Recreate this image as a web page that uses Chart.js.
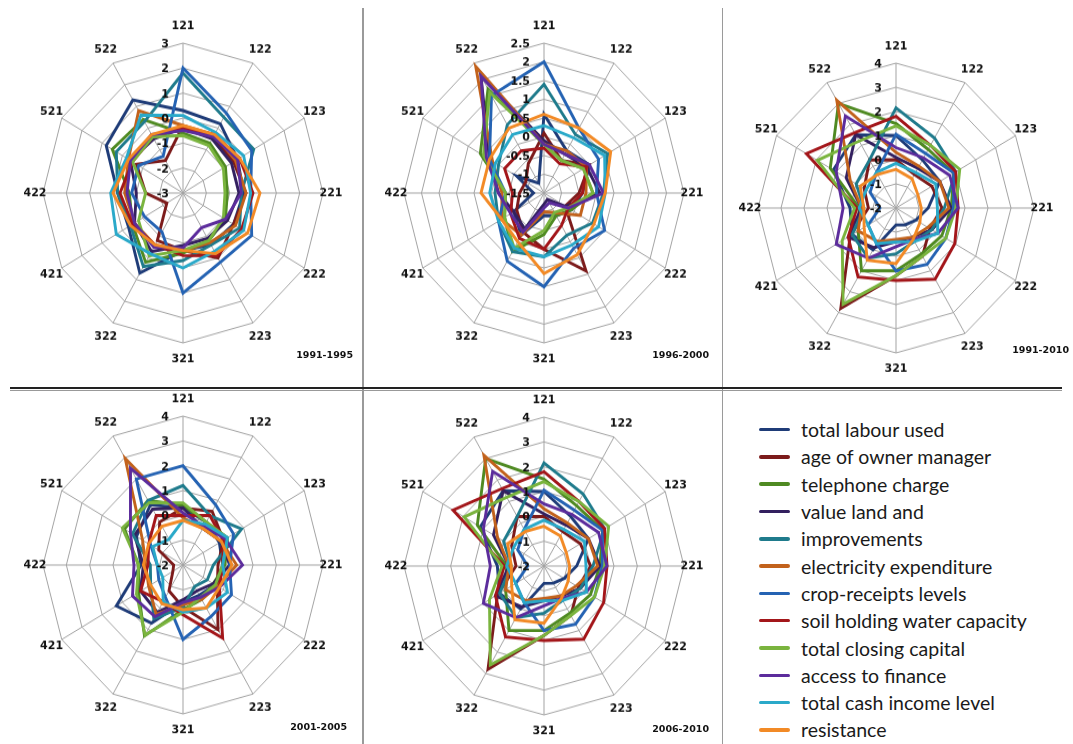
<!DOCTYPE html>
<html>
<head>
<meta charset="utf-8">
<script src="https://cdn.jsdelivr.net/npm/chart.js@4.4.0/dist/chart.umd.min.js"></script>
<style>
  body { margin: 0; width: 1073px; height: 744px; overflow: hidden; position: relative; background: #fff; }
  canvas { position: absolute; }
  .rule { position: absolute; }
  .period { position: absolute; width: 90px; text-align: right; font: bold 9.5px "DejaVu Sans", sans-serif; color: #111; line-height: 12px; }
  #legend { position: absolute; left: 759px; top: 416px; font: 19.5px Lato, sans-serif; color: #1a1a1a; }
  #legend .row { height: 27.3px; display: flex; align-items: center; white-space: nowrap; }
  #legend .swatch { width: 31px; height: 3.5px; border-radius: 2px; margin-right: 11px; }
</style>
</head>
<body>
<div class="rule" style="left:362px;top:8px;width:1.5px;height:736px;background:#9a9a9a"></div>
<div class="rule" style="left:721.5px;top:8px;width:1.5px;height:736px;background:#9a9a9a"></div>
<div class="rule" style="left:10px;top:387px;width:1052px;height:2px;background:#222"></div>
<div class="rule" style="left:10px;top:390px;width:1052px;height:1px;background:#999"></div>
<div id="legend"></div>

<script>
// axes of every radar
const axisLabels = ["121", "122", "123", "221", "222", "223", "321", "322", "421", "422", "521", "522"];

const seriesNames = [
  "total labour used", "age of owner manager", "telephone charge", "value land and",
  "improvements", "electricity expenditure", "crop-receipts levels", "soil holding water capacity",
  "total closing capital", "access to finance", "total cash income level", "resistance"
];
const seriesColors = [
  "#1f3c78", "#7c1b1b", "#4f8a22", "#33205f", "#1f7b8c", "#c2621c",
  "#2563b3", "#a3161a", "#7ab43e", "#5c2c9c", "#2aa9c9", "#f28a26"
];

// one row per series (same order as seriesNames), one value per axis
const data1991_1995 = [
  [0.3, 0.2, -0.3, -0.4, -0.5, -0.6, -0.7, 0.7, -0.3, -0.2, 0.8, 1.3],
  [-0.3, -0.4, -0.5, -0.3, -0.5, 0.0, -0.7, -0.8, -2.2, -1.4, -0.7, -1.5],
  [-0.6, -0.7, -0.9, -1.1, -0.9, -0.8, -0.6, 0.2, -0.5, -0.7, 0.5, 0.4],
  [-0.4, -0.5, -0.6, -0.6, -0.8, -0.9, -0.9, -0.3, -0.6, -1.0, -0.4, -0.5],
  [1.8, 0.5, 0.5, -0.5, -0.2, -0.6, -0.3, 0.4, -0.4, -0.2, 0.3, 0.3],
  [-0.3, -0.3, -0.4, -0.3, -0.4, -0.7, -0.7, -0.6, -0.6, -0.5, -0.3, 0.8],
  [2.0, 0.7, 0.4, -0.1, 0.4, 0.2, 1.0, -1.2, -1.1, -0.8, -0.8, -1.3],
  [-0.4, -0.3, -0.2, 0.0, -0.1, -0.1, -0.5, -0.6, -0.5, -0.3, -0.5, -0.4],
  [-0.7, -0.8, -1.0, -1.2, -1.0, -0.8, -0.7, -0.1, -0.8, -1.4, -0.5, -0.4],
  [-0.5, -0.4, -0.3, -0.5, -0.9, -1.4, -0.8, -0.5, -0.6, -0.6, -0.4, -0.3],
  [0.1, -0.2, 0.0, -0.1, 0.0, -0.3, 0.0, -0.2, 0.3, 0.1, -0.2, 0.6],
  [-0.3, -0.3, -0.2, 0.3, 0.2, -0.2, -0.7, -0.6, -0.4, 0.0, -0.3, -0.3]
];

const data1996_2000 = [
  [0.6, -0.2, 0.0, -0.4, -0.6, -0.8, -0.9, -0.2, -0.5, -1.2, -0.6, -1.2],
  [0.1, -0.5, 0.0, -0.5, -0.8, 0.9, 0.0, -0.3, -0.6, -0.8, -0.9, -0.6],
  [-0.2, -0.5, -0.2, -0.1, -0.6, -0.8, -0.4, 0.3, -0.2, -0.4, 0.6, 1.7],
  [-0.1, -0.3, -0.1, 0.1, -0.8, -1.3, -1.2, -0.4, -0.5, -0.2, 0.3, 2.1],
  [1.4, 0.3, 0.6, 0.2, 0.1, -0.2, 0.2, 0.3, 0.0, -0.1, 0.0, 0.6],
  [-0.2, -0.2, -0.1, -0.3, -0.3, -0.9, -1.0, -0.2, -0.1, -0.3, 0.2, 2.4],
  [2.0, 0.5, 0.3, 0.0, 0.5, 0.2, 1.0, 0.6, 0.0, -0.4, 0.3, 1.5],
  [-0.3, -0.6, -0.1, -0.4, -0.7, -0.5, 0.0, -0.1, -0.4, -0.6, -0.2, -0.2],
  [-0.2, -0.5, -0.2, -0.1, -0.7, -0.9, -0.5, 0.2, -0.2, -0.4, 0.5, 1.6],
  [-0.2, -0.3, 0.0, 0.2, -0.7, -1.2, -1.1, -0.3, -0.4, -0.2, 0.4, 2.1],
  [0.3, 0.2, 0.5, 0.25, 0.3, 0.1, 0.2, 0.2, 0.0, 0.05, 0.1, 0.3],
  [0.6, 0.5, 0.7, 0.25, 0.15, 0.4, 0.65, 0.0, -0.1, 0.3, 0.3, 0.5]
];

const data2001_2005 = [
  [0.3, 0.0, -0.2, -0.3, -0.4, -0.6, -0.5, 0.7, 1.3, -0.2, 0.3, 0.8],
  [0.3, 0.5, 0.0, -0.5, -0.3, 1.0, -0.3, -0.8, -1.5, -1.6, -0.8, 0.0],
  [0.4, 0.0, 0.2, -0.2, -0.5, -0.4, -0.2, 1.3, 0.2, -0.1, 0.9, 1.0],
  [0.3, -0.3, -0.1, 0.0, -0.5, -0.8, -0.6, 0.2, 0.1, -0.3, 0.4, 0.6],
  [1.2, 0.3, 0.9, -0.7, -0.8, -1.0, -0.3, 0.5, -0.4, -0.6, 0.5, 1.0],
  [-0.1, -0.3, -0.1, 0.3, -0.3, -0.4, -0.4, 0.3, -0.3, -0.4, 0.0, 2.95],
  [2.0, 0.8, 0.5, 0.0, 0.4, 0.4, 1.0, -0.5, -0.8, -0.9, -0.4, 2.0],
  [0.0, 0.3, 0.0, -0.3, -0.2, 1.4, 0.0, -0.3, 0.1, -0.5, -0.3, 0.3],
  [0.5, 0.0, 0.2, -0.3, -0.4, -0.5, -0.1, 1.25, 0.3, -0.1, 1.0, 0.9],
  [0.1, -0.2, 0.1, 0.55, -0.2, -0.5, -0.5, 0.4, 0.5, 0.1, 0.6, 2.5],
  [-0.2, -0.1, 0.2, -0.3, 0.2, 0.0, -0.1, -0.3, -1.0, -0.9, -0.5, -0.8],
  [-0.2, -0.3, -0.1, 0.1, -0.2, 0.0, -0.2, -0.2, -0.4, -0.3, -0.3, -0.2]
];

const data2006_2010 = [
  [1.0, 0.3, 0.2, -0.6, -1.0, -1.2, -1.3, 0.0, 0.2, 0.0, 1.15, 1.5],
  [0.0, -0.4, -0.2, 0.0, -0.3, 0.3, 0.8, 2.8, 0.3, -0.8, -0.4, 0.3],
  [1.5, 0.8, 0.9, 0.4, 0.3, 0.2, 0.6, 1.0, -0.1, -0.4, 1.3, 3.0],
  [0.1, -0.1, 0.2, 0.4, -0.2, -0.6, -0.6, -0.1, 0.4, -0.5, 0.5, 1.5],
  [2.15, 1.35, 1.0, 0.1, -0.2, -0.4, -0.1, 0.4, 0.2, -0.6, 0.0, 0.3],
  [0.3, 0.0, 0.2, 0.3, -0.4, -0.6, -0.7, -0.4, -0.1, -0.5, 0.3, 3.15],
  [1.05, 0.6, 0.9, 0.5, 0.5, 0.7, 0.6, -0.3, -0.6, -1.3, -0.7, -0.3],
  [1.8, 1.0, 1.0, 0.7, 0.95, 1.4, 1.0, 1.3, 0.4, -0.3, 2.5, 1.6],
  [1.4, 1.0, 1.2, 0.6, 0.5, 0.3, 0.8, 2.6, 0.7, -0.2, 1.95, 1.2],
  [0.5, 0.4, 0.7, 0.7, 0.1, -0.5, -0.4, 0.4, 1.0, 0.3, 1.0, 2.4],
  [-0.15, -0.3, 0.0, -0.2, 0.1, -0.4, -0.6, -0.3, -0.6, -0.4, -0.5, -0.3],
  [-0.4, -0.6, -0.9, -0.9, -0.8, -0.5, 0.3, 0.5, -0.4, -0.6, -0.2, -0.4]
];

// the 1991-2010 panel has the same shapes as 2006-2010
const data1991_2010 = [
  [1.0, 0.3, 0.2, -0.6, -1.0, -1.2, -1.3, 0.0, 0.2, 0.0, 1.15, 1.5],
  [0.0, -0.4, -0.2, 0.0, -0.3, 0.3, 0.8, 2.8, 0.3, -0.8, -0.4, 0.3],
  [1.5, 0.8, 0.9, 0.4, 0.3, 0.2, 0.6, 1.0, -0.1, -0.4, 1.3, 3.0],
  [0.1, -0.1, 0.2, 0.4, -0.2, -0.6, -0.6, -0.1, 0.4, -0.5, 0.5, 1.5],
  [2.15, 1.35, 1.0, 0.1, -0.2, -0.4, -0.1, 0.4, 0.2, -0.6, 0.0, 0.3],
  [0.3, 0.0, 0.2, 0.3, -0.4, -0.6, -0.7, -0.4, -0.1, -0.5, 0.3, 3.15],
  [1.05, 0.6, 0.9, 0.5, 0.5, 0.7, 0.6, -0.3, -0.6, -1.3, -0.7, -0.3],
  [1.8, 1.0, 1.0, 0.7, 0.95, 1.4, 1.0, 1.3, 0.4, -0.3, 2.5, 1.6],
  [1.4, 1.0, 1.2, 0.6, 0.5, 0.3, 0.8, 2.6, 0.7, -0.2, 1.95, 1.2],
  [0.5, 0.4, 0.7, 0.7, 0.1, -0.5, -0.4, 0.4, 1.0, 0.3, 1.0, 2.4],
  [-0.15, -0.3, 0.0, -0.2, 0.1, -0.4, -0.6, -0.3, -0.6, -0.4, -0.5, -0.3],
  [-0.4, -0.6, -0.9, -0.9, -0.8, -0.5, 0.3, 0.5, -0.4, -0.6, -0.2, -0.4]
];

// scale ranges of each panel
const scaleMin = [-3, -1.5, -2, -2, -2];
const scaleMax = [3, 2.5, 4, 4, 4];
const scaleStep = [1, 0.5, 1, 1, 1];
const periods = ["1991-1995", "1996-2000", "1991-2010", "2001-2005", "2006-2010"];
const panelData = [data1991_1995, data1996_2000, data1991_2010, data2001_2005, data2006_2010];

// layout: centre, horizontal radius, vertical stretch, period label spot
const panels = [
  { cx: 183, cy: 193, r: 140, sy: 1.071, px: 353, py: 355 },
  { cx: 544, cy: 193, r: 140, sy: 1.071, px: 709, py: 355 },
  { cx: 896, cy: 208, r: 138, sy: 1.05, px: 1069, py: 350 },
  { cx: 183, cy: 565, r: 140, sy: 1.064, px: 347, py: 727 },
  { cx: 544, cy: 566, r: 140, sy: 1.064, px: 709, py: 729 }
];

const gridColor = "#a3a3a3";

// axis names and value labels, placed through the radial scale
const labelPlugin = {
  id: "radarText",
  afterDatasetsDraw(chart) {
    const s = chart.scales.r;
    const ctx = chart.ctx;
    ctx.save();
    ctx.fillStyle = "#111";
    ctx.font = 'bold 11px "DejaVu Sans"';
    ctx.textAlign = "right";
    ctx.textBaseline = "middle";
    s.ticks.forEach((t) => {
      const y = s.yCenter - s.getDistanceFromCenterForValue(t.value);
      ctx.fillText(String(Math.round(t.value * 10) / 10), s.xCenter - 14, y + 1);
    });
    ctx.textAlign = "center";
    axisLabels.forEach((lab, i) => {
      const ang = (i * Math.PI * 2) / axisLabels.length;
      const p = s.getPointPosition(i, s.drawingArea + 8 + 7.5 * Math.abs(Math.cos(ang)));
      ctx.fillText(lab, p.x, p.y);
    });
    ctx.restore();
  }
};

function drawPanel(k) {
  const p = panels[k];
  const M = 40;
  const size = 2 * p.r + 2 * M;
  const cv = document.createElement("canvas");
  cv.width = size;
  cv.height = size;
  cv.style.left = p.cx - p.r - M + "px";
  cv.style.top = p.cy - p.r - M + "px";
  cv.style.transformOrigin = "50% 50%";
  cv.style.transform = "scaleY(" + p.sy + ")";
  document.body.appendChild(cv);

  const datasets = seriesNames.map((name, i) => ({
    label: name,
    data: panelData[k][i],
    borderColor: seriesColors[i],
    backgroundColor: seriesColors[i],
    borderWidth: 2.9,
    fill: false,
    pointRadius: 0,
    tension: 0,
    order: seriesNames.length - i
  }));

  new Chart(cv, {
    type: "radar",
    data: { labels: axisLabels, datasets: datasets },
    options: {
      responsive: false,
      animation: false,
      layout: { padding: M },
      plugins: { legend: { display: false }, tooltip: { enabled: false } },
      scales: {
        r: {
          min: scaleMin[k],
          max: scaleMax[k],
          ticks: { display: false, stepSize: scaleStep[k] },
          pointLabels: { display: false },
          grid: { color: gridColor, lineWidth: 1 },
          angleLines: { color: gridColor, lineWidth: 1 }
        }
      }
    },
    plugins: [labelPlugin]
  });

  const lab = document.createElement("div");
  lab.className = "period";
  lab.textContent = periods[k];
  lab.style.left = p.px - 90 + "px";
  lab.style.top = p.py - 6 + "px";
  document.body.appendChild(lab);
}

for (let k = 0; k < panels.length; k++) drawPanel(k);

// legend panel
const legend = document.getElementById("legend");
seriesNames.forEach((name, i) => {
  const row = document.createElement("div");
  row.className = "row";
  row.innerHTML = '<span class="swatch" style="background:' + seriesColors[i] + '"></span><span>' + name + "</span>";
  legend.appendChild(row);
});
</script>
</body>
</html>
